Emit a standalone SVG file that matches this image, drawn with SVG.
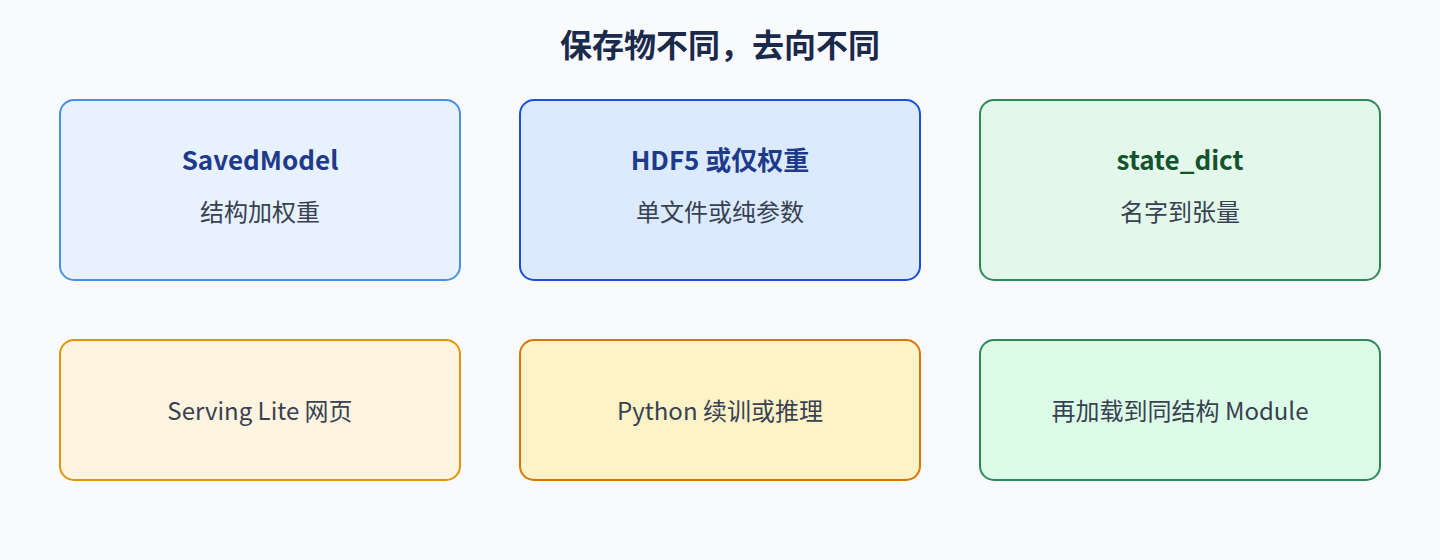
<svg xmlns="http://www.w3.org/2000/svg" width="1440" height="560" viewBox="0 0 1440 560">
<style>
text{font-family:"Noto Sans CJK SC","Noto Sans",sans-serif;text-anchor:middle}
.title{font-size:32px;font-weight:700;fill:#1b2a4a}
.h{font-size:26px;font-weight:700;fill:#1e3a8a}
.hg{font-size:26px;font-weight:700;fill:#14532d}
.s{font-size:24px;fill:#374151}
.box{stroke-width:2}
</style>
<rect x="0" y="0" width="1440" height="560" fill="#f8fafd"/>
<text class="title" x="720" y="57">保存物不同，去向不同</text>
<g id="savedmodel">
<rect class="box" x="60" y="100" width="400" height="180" rx="14" fill="#e8f1fe" stroke="#4a90e2"/>
<text class="h" x="260" y="170">SavedModel</text>
<text class="s" x="260" y="221">结构加权重</text>
</g>
<g id="hdf5">
<rect class="box" x="520" y="100" width="400" height="180" rx="14" fill="#dbeafe" stroke="#1d4ed8"/>
<text class="h" x="720" y="170">HDF5 或仅权重</text>
<text class="s" x="720" y="221">单文件或纯参数</text>
</g>
<g id="statedict">
<rect class="box" x="980" y="100" width="400" height="180" rx="14" fill="#e3f8ea" stroke="#2e8b57"/>
<text class="hg" x="1180" y="170">state_dict</text>
<text class="s" x="1180" y="221">名字到张量</text>
</g>
<g id="serving">
<rect class="box" x="60" y="340" width="400" height="140" rx="14" fill="#fff4e0" stroke="#e0950a"/>
<text class="s" x="260" y="420">Serving Lite 网页</text>
</g>
<g id="python">
<rect class="box" x="520" y="340" width="400" height="140" rx="14" fill="#fef3c7" stroke="#d97706"/>
<text class="s" x="720" y="420">Python 续训或推理</text>
</g>
<g id="module">
<rect class="box" x="980" y="340" width="400" height="140" rx="14" fill="#dcfce7" stroke="#2e8b57"/>
<text class="s" x="1180" y="420">再加载到同结构 Module</text>
</g>
<g id="connectors"></g>
</svg>
